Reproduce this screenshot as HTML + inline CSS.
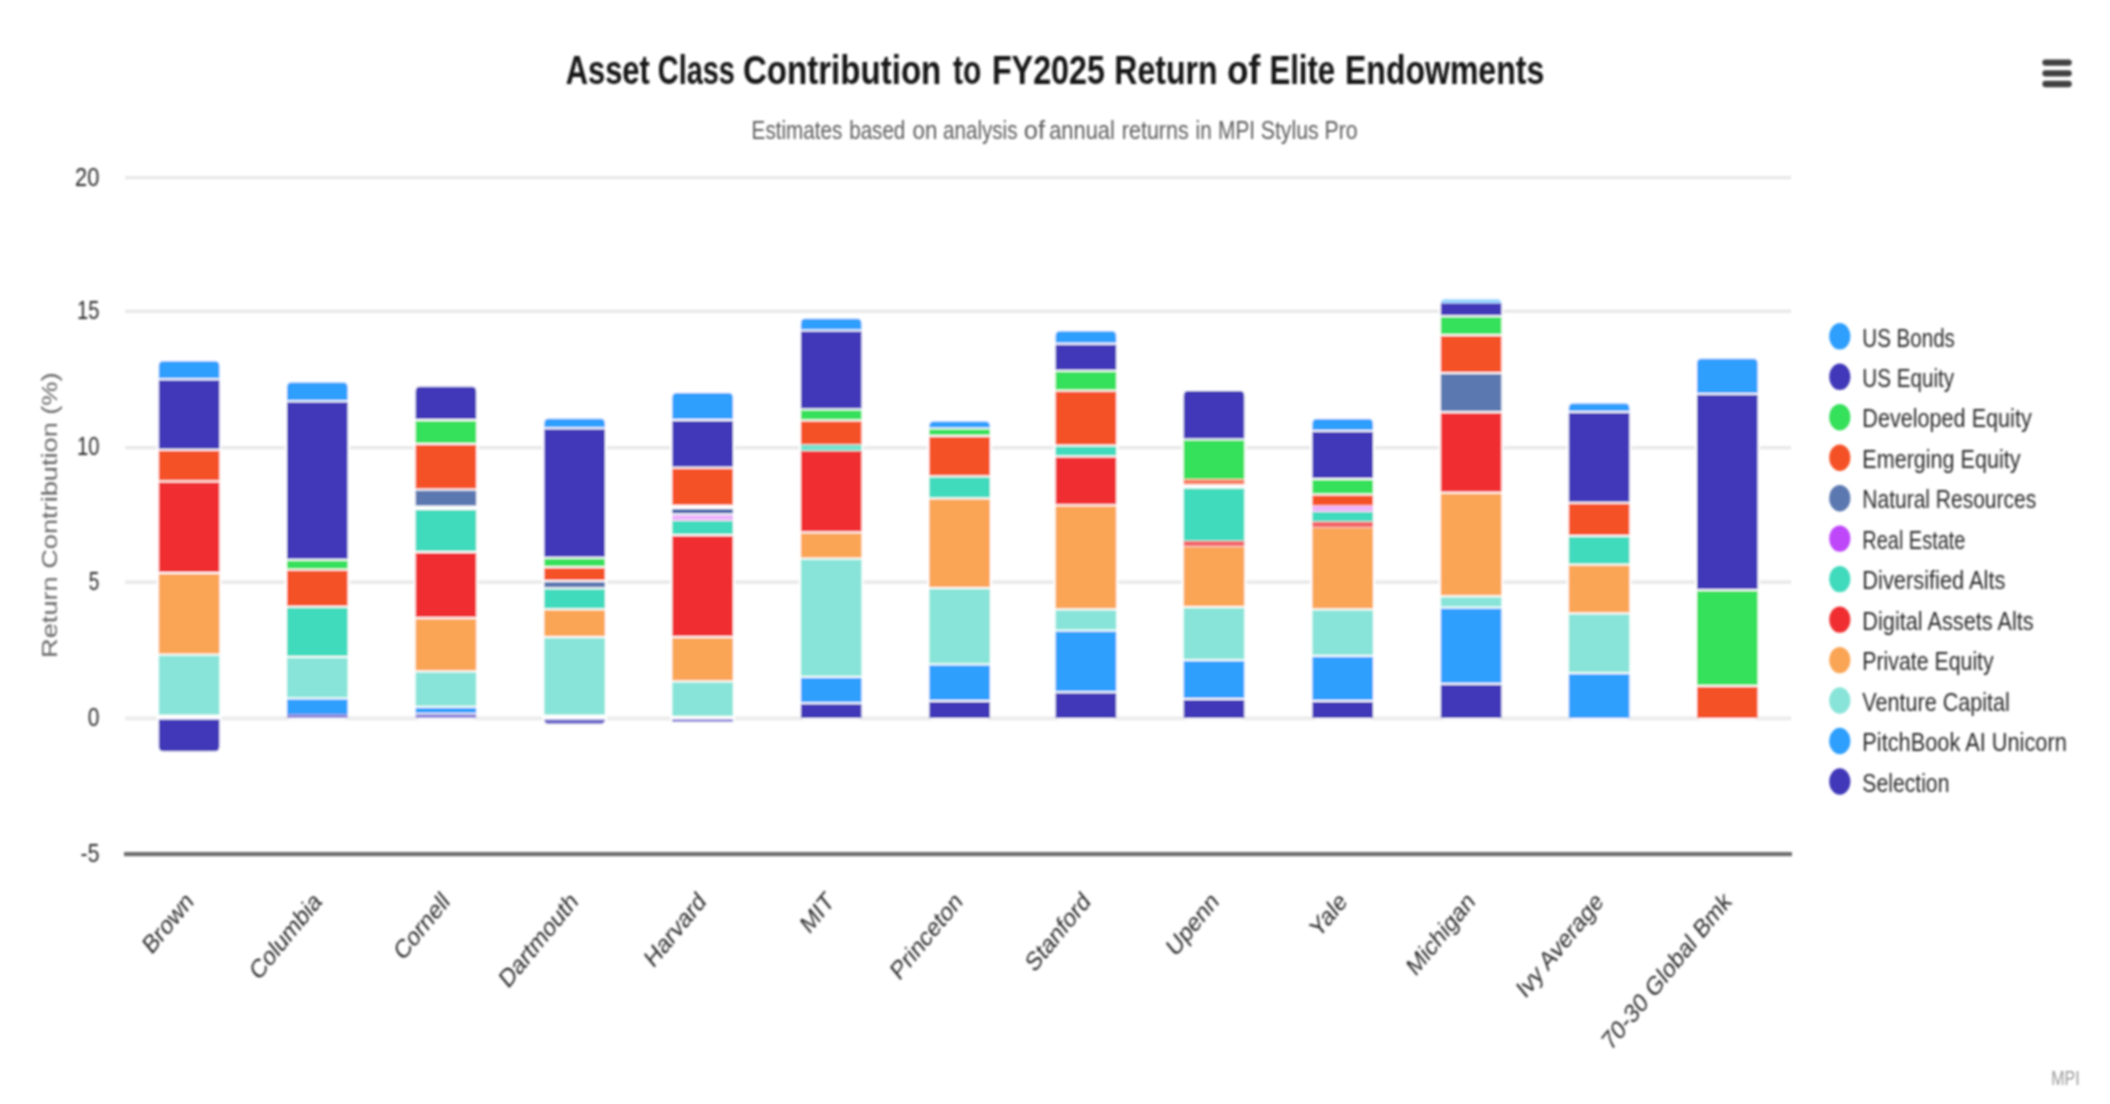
<!DOCTYPE html>
<html><head><meta charset="utf-8"><title>Asset Class Contribution to FY2025 Return of Elite Endowments</title>
<style>
html,body{margin:0;padding:0;background:#fff;}
body{width:2110px;height:1104px;overflow:hidden;font-family:"Liberation Sans",sans-serif;}
svg{display:block;font-family:"Liberation Sans",sans-serif;}
</style></head>
<body>
<svg width="2110" height="1104" viewBox="0 0 2110 1104">
<defs><filter id="bl" x="-2%" y="-2%" width="104%" height="104%"><feGaussianBlur stdDeviation="0.9 1.0"/></filter></defs>
<rect width="2110" height="1104" fill="#fff"/>
<g filter="url(#bl)">
<rect x="125.2" y="175.90" width="1666" height="3.4" fill="#e8e8e8"/>
<rect x="125.2" y="309.60" width="1666" height="3.4" fill="#e8e8e8"/>
<rect x="125.2" y="446.00" width="1666" height="3.4" fill="#e8e8e8"/>
<rect x="125.2" y="580.40" width="1666" height="3.4" fill="#e8e8e8"/>
<rect x="125.2" y="716.40" width="1666" height="4.0" fill="#ececec"/>
<rect x="156.6" y="359.3" width="65.0" height="394.4" fill="#fff" rx="7" ry="8"/>
<path d="M158.8,378.3 L158.8,366.3 Q158.8,361.3 163.0,361.3 L215.2,361.3 Q219.4,361.3 219.4,366.3 L219.4,378.3 Z" fill="#2E9FFD"/>
<rect x="158.8" y="380.3" width="60.6" height="68.5" fill="#4037B8"/>
<rect x="158.8" y="450.8" width="60.6" height="29.6" fill="#F55125"/>
<rect x="158.8" y="482.4" width="60.6" height="89.6" fill="#F02E33"/>
<rect x="158.8" y="574.0" width="60.6" height="79.6" fill="#FAA555"/>
<rect x="158.8" y="655.6" width="60.6" height="59.0" fill="#88E4D8"/>
<path d="M158.8,719.6 L219.4,719.6 L219.4,746.2 Q219.4,751.2 215.2,751.2 L163.0,751.2 Q158.8,751.2 158.8,746.2 Z" fill="#4037B8"/>
<rect x="284.8" y="380.5" width="65.0" height="339.6" fill="#fff" rx="7" ry="8"/>
<path d="M287.0,400.3 L287.0,387.5 Q287.0,382.5 291.2,382.5 L343.4,382.5 Q347.6,382.5 347.6,387.5 L347.6,400.3 Z" fill="#2E9FFD"/>
<rect x="287.0" y="402.3" width="60.6" height="156.5" fill="#4037B8"/>
<rect x="287.0" y="560.8" width="60.6" height="7.8" fill="#35E05A"/>
<rect x="287.0" y="570.6" width="60.6" height="35.2" fill="#F55125"/>
<rect x="287.0" y="607.8" width="60.6" height="48.1" fill="#3FDABD"/>
<rect x="287.0" y="657.9" width="60.6" height="39.5" fill="#88E4D8"/>
<rect x="287.0" y="699.4" width="60.6" height="15.0" fill="#2E9FFD"/>
<rect x="287.0" y="714.4" width="60.6" height="3.6" fill="#8F87DA"/>
<rect x="413.4" y="384.8" width="65.0" height="335.3" fill="#fff" rx="7" ry="8"/>
<path d="M415.6,419.1 L415.6,391.8 Q415.6,386.8 419.8,386.8 L472.0,386.8 Q476.2,386.8 476.2,391.8 L476.2,419.1 Z" fill="#4037B8"/>
<rect x="415.6" y="421.1" width="60.6" height="21.8" fill="#35E05A"/>
<rect x="415.6" y="444.9" width="60.6" height="43.7" fill="#F55125"/>
<rect x="415.6" y="490.6" width="60.6" height="15.0" fill="#5B78B1"/>
<rect x="415.6" y="510.0" width="60.6" height="41.0" fill="#3FDABD"/>
<rect x="415.6" y="553.0" width="60.6" height="64.1" fill="#F02E33"/>
<rect x="415.6" y="619.1" width="60.6" height="51.3" fill="#FAA555"/>
<rect x="415.6" y="672.4" width="60.6" height="33.5" fill="#88E4D8"/>
<rect x="415.6" y="707.9" width="60.6" height="5.0" fill="#2E9FFD"/>
<rect x="415.6" y="714.1" width="60.6" height="3.9" fill="#8F87DA"/>
<rect x="542.1" y="416.8" width="65.0" height="309.7" fill="#fff" rx="7" ry="8"/>
<path d="M544.3,427.3 L544.3,423.8 Q544.3,418.8 548.5,418.8 L600.7,418.8 Q604.9,418.8 604.9,423.8 L604.9,427.3 Z" fill="#2E9FFD"/>
<rect x="544.3" y="429.3" width="60.6" height="127.5" fill="#4037B8"/>
<rect x="544.3" y="558.8" width="60.6" height="7.3" fill="#35E05A"/>
<rect x="544.3" y="568.1" width="60.6" height="11.9" fill="#F55125"/>
<rect x="544.3" y="582.0" width="60.6" height="5.3" fill="#5B78B1"/>
<rect x="544.3" y="589.3" width="60.6" height="19.0" fill="#3FDABD"/>
<rect x="544.3" y="610.3" width="60.6" height="25.8" fill="#FAA555"/>
<rect x="544.3" y="638.1" width="60.6" height="76.5" fill="#88E4D8"/>
<path d="M544.3,719.6 L604.9,719.6 L604.9,719.6 Q604.9,724.0 600.7,724.0 L548.5,724.0 Q544.3,724.0 544.3,719.6 Z" fill="#6F69C9"/>
<rect x="670.1" y="391.1" width="65.0" height="333.4" fill="#fff" rx="7" ry="8"/>
<path d="M672.3,419.1 L672.3,398.1 Q672.3,393.1 676.5,393.1 L728.7,393.1 Q732.9,393.1 732.9,398.1 L732.9,419.1 Z" fill="#2E9FFD"/>
<rect x="672.3" y="421.1" width="60.6" height="45.6" fill="#4037B8"/>
<rect x="672.3" y="468.7" width="60.6" height="36.1" fill="#F55125"/>
<rect x="672.3" y="509.2" width="60.6" height="4.1" fill="#4160A8"/>
<rect x="672.3" y="515.0" width="60.6" height="5.3" fill="#EDB2FB"/>
<rect x="672.3" y="521.0" width="60.6" height="13.1" fill="#3FDABD"/>
<rect x="672.3" y="536.1" width="60.6" height="100.0" fill="#F02E33"/>
<rect x="672.3" y="638.1" width="60.6" height="42.3" fill="#FAA555"/>
<rect x="672.3" y="682.4" width="60.6" height="33.4" fill="#88E4D8"/>
<rect x="672.3" y="719.2" width="60.6" height="2.8" fill="#8F87DA"/>
<rect x="798.7" y="316.8" width="65.0" height="403.3" fill="#fff" rx="7" ry="8"/>
<path d="M800.9,329.5 L800.9,323.8 Q800.9,318.8 805.1,318.8 L857.3,318.8 Q861.5,318.8 861.5,323.8 L861.5,329.5 Z" fill="#2E9FFD"/>
<rect x="800.9" y="331.5" width="60.6" height="76.9" fill="#4037B8"/>
<rect x="800.9" y="410.4" width="60.6" height="9.0" fill="#35E05A"/>
<rect x="800.9" y="421.4" width="60.6" height="22.9" fill="#F55125"/>
<rect x="800.9" y="444.9" width="60.6" height="5.6" fill="#6FE3CD"/>
<rect x="800.9" y="451.1" width="60.6" height="80.3" fill="#F02E33"/>
<rect x="800.9" y="533.4" width="60.6" height="24.2" fill="#FAA555"/>
<rect x="800.9" y="559.6" width="60.6" height="116.3" fill="#88E4D8"/>
<rect x="800.9" y="677.9" width="60.6" height="24.3" fill="#2E9FFD"/>
<rect x="800.9" y="704.2" width="60.6" height="13.8" fill="#4037B8"/>
<rect x="927.1" y="419.4" width="65.0" height="300.7" fill="#fff" rx="7" ry="8"/>
<path d="M929.3,427.4 L929.3,426.4 Q929.3,421.4 933.5,421.4 L985.7,421.4 Q989.9,421.4 989.9,426.4 L989.9,427.4 Z" fill="#2E9FFD"/>
<rect x="929.3" y="429.4" width="60.6" height="5.5" fill="#35E05A"/>
<rect x="929.3" y="436.9" width="60.6" height="38.5" fill="#F55125"/>
<rect x="929.3" y="477.4" width="60.6" height="20.0" fill="#3FDABD"/>
<rect x="929.3" y="499.4" width="60.6" height="87.7" fill="#FAA555"/>
<rect x="929.3" y="589.1" width="60.6" height="74.3" fill="#88E4D8"/>
<rect x="929.3" y="665.4" width="60.6" height="34.6" fill="#2E9FFD"/>
<rect x="929.3" y="702.0" width="60.6" height="16.0" fill="#4037B8"/>
<rect x="1053.4" y="329.3" width="65.0" height="390.8" fill="#fff" rx="7" ry="8"/>
<path d="M1055.6,342.8 L1055.6,336.3 Q1055.6,331.3 1059.8,331.3 L1112.0,331.3 Q1116.2,331.3 1116.2,336.3 L1116.2,342.8 Z" fill="#2E9FFD"/>
<rect x="1055.6" y="344.8" width="60.6" height="25.0" fill="#4037B8"/>
<rect x="1055.6" y="371.8" width="60.6" height="17.8" fill="#35E05A"/>
<rect x="1055.6" y="391.6" width="60.6" height="53.0" fill="#F55125"/>
<rect x="1055.6" y="446.6" width="60.6" height="8.8" fill="#3FDABD"/>
<rect x="1055.6" y="457.4" width="60.6" height="46.9" fill="#F02E33"/>
<rect x="1055.6" y="506.3" width="60.6" height="102.1" fill="#FAA555"/>
<rect x="1055.6" y="610.4" width="60.6" height="19.2" fill="#88E4D8"/>
<rect x="1055.6" y="631.6" width="60.6" height="59.6" fill="#2E9FFD"/>
<rect x="1055.6" y="693.2" width="60.6" height="24.8" fill="#4037B8"/>
<rect x="1181.5" y="388.9" width="65.0" height="331.2" fill="#fff" rx="7" ry="8"/>
<path d="M1183.7,438.4 L1183.7,395.9 Q1183.7,390.9 1187.9,390.9 L1240.1,390.9 Q1244.3,390.9 1244.3,395.9 L1244.3,438.4 Z" fill="#4037B8"/>
<rect x="1183.7" y="440.4" width="60.6" height="38.6" fill="#35E05A"/>
<rect x="1183.7" y="479.6" width="60.6" height="4.7" fill="#F77C5B"/>
<rect x="1183.7" y="488.6" width="60.6" height="52.0" fill="#3FDABD"/>
<rect x="1183.7" y="541.2" width="60.6" height="5.0" fill="#F36266"/>
<rect x="1183.7" y="546.9" width="60.6" height="59.2" fill="#FAA555"/>
<rect x="1183.7" y="608.1" width="60.6" height="51.1" fill="#88E4D8"/>
<rect x="1183.7" y="661.2" width="60.6" height="36.8" fill="#2E9FFD"/>
<rect x="1183.7" y="700.0" width="60.6" height="18.0" fill="#4037B8"/>
<rect x="1310.2" y="416.9" width="65.0" height="303.2" fill="#fff" rx="7" ry="8"/>
<path d="M1312.4,429.9 L1312.4,423.9 Q1312.4,418.9 1316.6,418.9 L1368.8,418.9 Q1373.0,418.9 1373.0,423.9 L1373.0,429.9 Z" fill="#2E9FFD"/>
<rect x="1312.4" y="431.9" width="60.6" height="46.1" fill="#4037B8"/>
<rect x="1312.4" y="480.0" width="60.6" height="13.5" fill="#35E05A"/>
<rect x="1312.4" y="495.5" width="60.6" height="9.9" fill="#F55125"/>
<rect x="1312.4" y="506.1" width="60.6" height="5.3" fill="#EDB2FB"/>
<rect x="1312.4" y="512.0" width="60.6" height="9.3" fill="#3FDABD"/>
<rect x="1312.4" y="521.9" width="60.6" height="5.4" fill="#F36266"/>
<rect x="1312.4" y="527.9" width="60.6" height="80.5" fill="#FAA555"/>
<rect x="1312.4" y="610.4" width="60.6" height="44.5" fill="#88E4D8"/>
<rect x="1312.4" y="656.9" width="60.6" height="43.1" fill="#2E9FFD"/>
<rect x="1312.4" y="702.0" width="60.6" height="16.0" fill="#4037B8"/>
<rect x="1438.6" y="297.2" width="65.0" height="422.9" fill="#fff" rx="7" ry="8"/>
<path d="M1440.8,302.8 L1440.8,302.8 Q1440.8,299.2 1445.0,299.2 L1497.2,299.2 Q1501.4,299.2 1501.4,302.8 L1501.4,302.8 Z" fill="#8FD3FF"/>
<rect x="1440.8" y="303.4" width="60.6" height="11.8" fill="#4037B8"/>
<rect x="1440.8" y="317.2" width="60.6" height="16.9" fill="#35E05A"/>
<rect x="1440.8" y="336.1" width="60.6" height="36.0" fill="#F55125"/>
<rect x="1440.8" y="374.1" width="60.6" height="37.0" fill="#5B78B1"/>
<rect x="1440.8" y="413.1" width="60.6" height="78.6" fill="#F02E33"/>
<rect x="1440.8" y="493.7" width="60.6" height="101.6" fill="#FAA555"/>
<rect x="1440.8" y="597.3" width="60.6" height="9.3" fill="#88E4D8"/>
<rect x="1440.8" y="608.6" width="60.6" height="74.3" fill="#2E9FFD"/>
<rect x="1440.8" y="684.9" width="60.6" height="33.1" fill="#4037B8"/>
<rect x="1566.6" y="401.4" width="65.0" height="318.7" fill="#fff" rx="7" ry="8"/>
<path d="M1568.8,410.9 L1568.8,408.4 Q1568.8,403.4 1573.0,403.4 L1625.2,403.4 Q1629.4,403.4 1629.4,408.4 L1629.4,410.9 Z" fill="#2E9FFD"/>
<rect x="1568.8" y="412.9" width="60.6" height="88.9" fill="#4037B8"/>
<rect x="1568.8" y="503.8" width="60.6" height="31.1" fill="#F55125"/>
<rect x="1568.8" y="536.9" width="60.6" height="26.7" fill="#3FDABD"/>
<rect x="1568.8" y="565.6" width="60.6" height="46.8" fill="#FAA555"/>
<rect x="1568.8" y="614.4" width="60.6" height="57.8" fill="#88E4D8"/>
<rect x="1568.8" y="674.2" width="60.6" height="43.8" fill="#2E9FFD"/>
<rect x="1694.8" y="356.8" width="65.0" height="363.3" fill="#fff" rx="7" ry="8"/>
<path d="M1697.0,392.9 L1697.0,363.8 Q1697.0,358.8 1701.2,358.8 L1753.4,358.8 Q1757.6,358.8 1757.6,363.8 L1757.6,392.9 Z" fill="#2E9FFD"/>
<rect x="1697.0" y="394.9" width="60.6" height="194.2" fill="#4037B8"/>
<rect x="1697.0" y="591.1" width="60.6" height="93.8" fill="#35E05A"/>
<rect x="1697.0" y="686.9" width="60.6" height="31.1" fill="#F55125"/>
<rect x="124" y="852.0" width="1668" height="4.2" fill="#6d6d6d"/>
<g transform="translate(565.7,84.4) scale(1.7583,2.143)"><text font-size="18.8" fill="#141414" text-anchor="start" font-weight="bold" textLength="47.83" lengthAdjust="spacingAndGlyphs">Asset</text></g>
<g transform="translate(657.8,84.4) scale(1.7583,2.143)"><text font-size="18.8" fill="#141414" text-anchor="start" font-weight="bold" textLength="43.85" lengthAdjust="spacingAndGlyphs">Class</text></g>
<g transform="translate(742.9,84.4) scale(1.7583,2.143)"><text font-size="18.8" fill="#141414" text-anchor="start" font-weight="bold" textLength="112.84" lengthAdjust="spacingAndGlyphs">Contribution</text></g>
<g transform="translate(953.1,84.4) scale(1.7583,2.143)"><text font-size="18.8" fill="#141414" text-anchor="start" font-weight="bold" textLength="16.10" lengthAdjust="spacingAndGlyphs">to</text></g>
<g transform="translate(991.9,84.4) scale(1.7583,2.143)"><text font-size="18.8" fill="#141414" text-anchor="start" font-weight="bold" textLength="64.32" lengthAdjust="spacingAndGlyphs">FY2025</text></g>
<g transform="translate(1114.3,84.4) scale(1.7583,2.143)"><text font-size="18.8" fill="#141414" text-anchor="start" font-weight="bold" textLength="58.75" lengthAdjust="spacingAndGlyphs">Return</text></g>
<g transform="translate(1226.9,84.4) scale(1.7583,2.143)"><text font-size="18.8" fill="#141414" text-anchor="start" font-weight="bold" textLength="18.94" lengthAdjust="spacingAndGlyphs">of</text></g>
<g transform="translate(1269.4,84.4) scale(1.7583,2.143)"><text font-size="18.8" fill="#141414" text-anchor="start" font-weight="bold" textLength="37.42" lengthAdjust="spacingAndGlyphs">Elite</text></g>
<g transform="translate(1345.0,84.4) scale(1.7583,2.143)"><text font-size="18.8" fill="#141414" text-anchor="start" font-weight="bold" textLength="113.29" lengthAdjust="spacingAndGlyphs">Endowments</text></g>
<g transform="translate(751.6,138.9) scale(1.7583,2.143)"><text font-size="12.25" fill="#5c5c5c" text-anchor="start" font-weight="normal" textLength="51.58" lengthAdjust="spacingAndGlyphs">Estimates</text></g>
<g transform="translate(849.2,138.9) scale(1.7583,2.143)"><text font-size="12.25" fill="#5c5c5c" text-anchor="start" font-weight="normal" textLength="31.91" lengthAdjust="spacingAndGlyphs">based</text></g>
<g transform="translate(912.6,138.9) scale(1.7583,2.143)"><text font-size="12.25" fill="#5c5c5c" text-anchor="start" font-weight="normal" textLength="14.10" lengthAdjust="spacingAndGlyphs">on</text></g>
<g transform="translate(943.1,138.9) scale(1.7583,2.143)"><text font-size="12.25" fill="#5c5c5c" text-anchor="start" font-weight="normal" textLength="42.31" lengthAdjust="spacingAndGlyphs">analysis</text></g>
<g transform="translate(1023.7,138.9) scale(1.7583,2.143)"><text font-size="12.25" fill="#5c5c5c" text-anchor="start" font-weight="normal" textLength="12.11" lengthAdjust="spacingAndGlyphs">of</text></g>
<g transform="translate(1049.2,138.9) scale(1.7583,2.143)"><text font-size="12.25" fill="#5c5c5c" text-anchor="start" font-weight="normal" textLength="37.31" lengthAdjust="spacingAndGlyphs">annual</text></g>
<g transform="translate(1121.8,138.9) scale(1.7583,2.143)"><text font-size="12.25" fill="#5c5c5c" text-anchor="start" font-weight="normal" textLength="38.05" lengthAdjust="spacingAndGlyphs">returns</text></g>
<g transform="translate(1195.6,138.9) scale(1.7583,2.143)"><text font-size="12.25" fill="#5c5c5c" text-anchor="start" font-weight="normal" textLength="9.16" lengthAdjust="spacingAndGlyphs">in</text></g>
<g transform="translate(1218.1,138.9) scale(1.7583,2.143)"><text font-size="12.25" fill="#5c5c5c" text-anchor="start" font-weight="normal" textLength="20.99" lengthAdjust="spacingAndGlyphs">MPI</text></g>
<g transform="translate(1260.7,138.9) scale(1.7583,2.143)"><text font-size="12.25" fill="#5c5c5c" text-anchor="start" font-weight="normal" textLength="33.04" lengthAdjust="spacingAndGlyphs">Stylus</text></g>
<g transform="translate(1324.5,138.9) scale(1.7583,2.143)"><text font-size="12.25" fill="#5c5c5c" text-anchor="start" font-weight="normal" textLength="18.83" lengthAdjust="spacingAndGlyphs">Pro</text></g>
<g transform="translate(99.4,185.5) scale(1.7583,2.143)"><text font-size="12.25" fill="#2b2b2b" text-anchor="end" font-weight="normal" textLength="13.82" lengthAdjust="spacingAndGlyphs">20</text></g>
<g transform="translate(99.4,319.4) scale(1.7583,2.143)"><text font-size="12.25" fill="#2b2b2b" text-anchor="end" font-weight="normal" textLength="12.74" lengthAdjust="spacingAndGlyphs">15</text></g>
<g transform="translate(99.4,455.2) scale(1.7583,2.143)"><text font-size="12.25" fill="#2b2b2b" text-anchor="end" font-weight="normal" textLength="12.74" lengthAdjust="spacingAndGlyphs">10</text></g>
<g transform="translate(99.4,590.1) scale(1.7583,2.143)"><text font-size="12.25" fill="#2b2b2b" text-anchor="end" font-weight="normal" textLength="6.03" lengthAdjust="spacingAndGlyphs">5</text></g>
<g transform="translate(99.4,725.6) scale(1.7583,2.143)"><text font-size="12.25" fill="#2b2b2b" text-anchor="end" font-weight="normal" textLength="6.65" lengthAdjust="spacingAndGlyphs">0</text></g>
<g transform="translate(99.4,862.0) scale(1.7583,2.143)"><text font-size="12.25" fill="#2b2b2b" text-anchor="end" font-weight="normal" textLength="10.69" lengthAdjust="spacingAndGlyphs">-5</text></g>
<g transform="translate(57.2,657.9) scale(1.7583,2.143) rotate(-90)"><text font-size="12.25" fill="#666" text-anchor="start" font-weight="normal" textLength="133.22" lengthAdjust="spacingAndGlyphs">Return Contribution (%)</text></g>
<g transform="translate(194.6,903.0) scale(1.7583,2.143) rotate(-45)"><text font-size="12.25" fill="#2b2b2b" text-anchor="end" font-weight="normal">Brown</text></g>
<g transform="translate(322.8,903.0) scale(1.7583,2.143) rotate(-45)"><text font-size="12.25" fill="#2b2b2b" text-anchor="end" font-weight="normal">Columbia</text></g>
<g transform="translate(450.9,903.0) scale(1.7583,2.143) rotate(-45)"><text font-size="12.25" fill="#2b2b2b" text-anchor="end" font-weight="normal">Cornell</text></g>
<g transform="translate(579.1,903.0) scale(1.7583,2.143) rotate(-45)"><text font-size="12.25" fill="#2b2b2b" text-anchor="end" font-weight="normal">Dartmouth</text></g>
<g transform="translate(707.3,903.0) scale(1.7583,2.143) rotate(-45)"><text font-size="12.25" fill="#2b2b2b" text-anchor="end" font-weight="normal">Harvard</text></g>
<g transform="translate(835.4,903.0) scale(1.7583,2.143) rotate(-45)"><text font-size="12.25" fill="#2b2b2b" text-anchor="end" font-weight="normal">MIT</text></g>
<g transform="translate(963.6,903.0) scale(1.7583,2.143) rotate(-45)"><text font-size="12.25" fill="#2b2b2b" text-anchor="end" font-weight="normal">Princeton</text></g>
<g transform="translate(1091.8,903.0) scale(1.7583,2.143) rotate(-45)"><text font-size="12.25" fill="#2b2b2b" text-anchor="end" font-weight="normal">Stanford</text></g>
<g transform="translate(1220.0,903.0) scale(1.7583,2.143) rotate(-45)"><text font-size="12.25" fill="#2b2b2b" text-anchor="end" font-weight="normal">Upenn</text></g>
<g transform="translate(1348.1,903.0) scale(1.7583,2.143) rotate(-45)"><text font-size="12.25" fill="#2b2b2b" text-anchor="end" font-weight="normal">Yale</text></g>
<g transform="translate(1476.3,903.0) scale(1.7583,2.143) rotate(-45)"><text font-size="12.25" fill="#2b2b2b" text-anchor="end" font-weight="normal">Michigan</text></g>
<g transform="translate(1604.5,903.0) scale(1.7583,2.143) rotate(-45)"><text font-size="12.25" fill="#2b2b2b" text-anchor="end" font-weight="normal">Ivy Average</text></g>
<g transform="translate(1732.6,903.0) scale(1.7583,2.143) rotate(-45)"><text font-size="12.25" fill="#2b2b2b" text-anchor="end" font-weight="normal">70-30 Global Bmk</text></g>
<ellipse cx="1839.8" cy="336.3" rx="10.6" ry="13.2" fill="#2E9FFD"/>
<g transform="translate(1862.3,346.5) scale(1.7583,2.143)"><text font-size="12.25" fill="#2b2b2b" text-anchor="start" font-weight="normal" textLength="52.66" lengthAdjust="spacingAndGlyphs">US Bonds</text></g>
<ellipse cx="1839.8" cy="376.8" rx="10.6" ry="13.2" fill="#4037B8"/>
<g transform="translate(1862.3,387.0) scale(1.7583,2.143)"><text font-size="12.25" fill="#2b2b2b" text-anchor="start" font-weight="normal" textLength="52.21" lengthAdjust="spacingAndGlyphs">US Equity</text></g>
<ellipse cx="1839.8" cy="417.2" rx="10.6" ry="13.2" fill="#35E05A"/>
<g transform="translate(1862.3,427.4) scale(1.7583,2.143)"><text font-size="12.25" fill="#2b2b2b" text-anchor="start" font-weight="normal" textLength="96.34" lengthAdjust="spacingAndGlyphs">Developed Equity</text></g>
<ellipse cx="1839.8" cy="457.7" rx="10.6" ry="13.2" fill="#F55125"/>
<g transform="translate(1862.3,467.9) scale(1.7583,2.143)"><text font-size="12.25" fill="#2b2b2b" text-anchor="start" font-weight="normal" textLength="89.97" lengthAdjust="spacingAndGlyphs">Emerging Equity</text></g>
<ellipse cx="1839.8" cy="498.2" rx="10.6" ry="13.2" fill="#5B78B1"/>
<g transform="translate(1862.3,508.4) scale(1.7583,2.143)"><text font-size="12.25" fill="#2b2b2b" text-anchor="start" font-weight="normal" textLength="98.90" lengthAdjust="spacingAndGlyphs">Natural Resources</text></g>
<ellipse cx="1839.8" cy="538.6" rx="10.6" ry="13.2" fill="#BF47FA"/>
<g transform="translate(1862.3,548.9) scale(1.7583,2.143)"><text font-size="12.25" fill="#2b2b2b" text-anchor="start" font-weight="normal" textLength="58.64" lengthAdjust="spacingAndGlyphs">Real Estate</text></g>
<ellipse cx="1839.8" cy="579.1" rx="10.6" ry="13.2" fill="#3FDABD"/>
<g transform="translate(1862.3,589.3) scale(1.7583,2.143)"><text font-size="12.25" fill="#2b2b2b" text-anchor="start" font-weight="normal" textLength="81.39" lengthAdjust="spacingAndGlyphs">Diversified Alts</text></g>
<ellipse cx="1839.8" cy="619.6" rx="10.6" ry="13.2" fill="#F02E33"/>
<g transform="translate(1862.3,629.8) scale(1.7583,2.143)"><text font-size="12.25" fill="#2b2b2b" text-anchor="start" font-weight="normal" textLength="97.48" lengthAdjust="spacingAndGlyphs">Digital Assets Alts</text></g>
<ellipse cx="1839.8" cy="660.1" rx="10.6" ry="13.2" fill="#FAA555"/>
<g transform="translate(1862.3,670.3) scale(1.7583,2.143)"><text font-size="12.25" fill="#2b2b2b" text-anchor="start" font-weight="normal" textLength="74.73" lengthAdjust="spacingAndGlyphs">Private Equity</text></g>
<ellipse cx="1839.8" cy="700.5" rx="10.6" ry="13.2" fill="#88E4D8"/>
<g transform="translate(1862.3,710.7) scale(1.7583,2.143)"><text font-size="12.25" fill="#2b2b2b" text-anchor="start" font-weight="normal" textLength="83.94" lengthAdjust="spacingAndGlyphs">Venture Capital</text></g>
<ellipse cx="1839.8" cy="741.0" rx="10.6" ry="13.2" fill="#2E9FFD"/>
<g transform="translate(1862.3,751.2) scale(1.7583,2.143)"><text font-size="12.25" fill="#2b2b2b" text-anchor="start" font-weight="normal" textLength="116.31" lengthAdjust="spacingAndGlyphs">PitchBook AI Unicorn</text></g>
<ellipse cx="1839.8" cy="781.5" rx="10.6" ry="13.2" fill="#4037B8"/>
<g transform="translate(1862.3,791.7) scale(1.7583,2.143)"><text font-size="12.25" fill="#2b2b2b" text-anchor="start" font-weight="normal" textLength="49.54" lengthAdjust="spacingAndGlyphs">Selection</text></g>
<line x1="2045.5" y1="62.6" x2="2068.6" y2="62.6" stroke="#404040" stroke-width="6.3" stroke-linecap="round"/>
<line x1="2045.5" y1="73.3" x2="2068.6" y2="73.3" stroke="#404040" stroke-width="6.3" stroke-linecap="round"/>
<line x1="2045.5" y1="84.0" x2="2068.6" y2="84.0" stroke="#404040" stroke-width="6.3" stroke-linecap="round"/>
<g transform="translate(2079.7,1085.2) scale(1.7583,2.143)"><text font-size="9.3" fill="#999" text-anchor="end" font-weight="normal" textLength="16.15" lengthAdjust="spacingAndGlyphs">MPI</text></g>
</g>
</svg>
</body></html>
